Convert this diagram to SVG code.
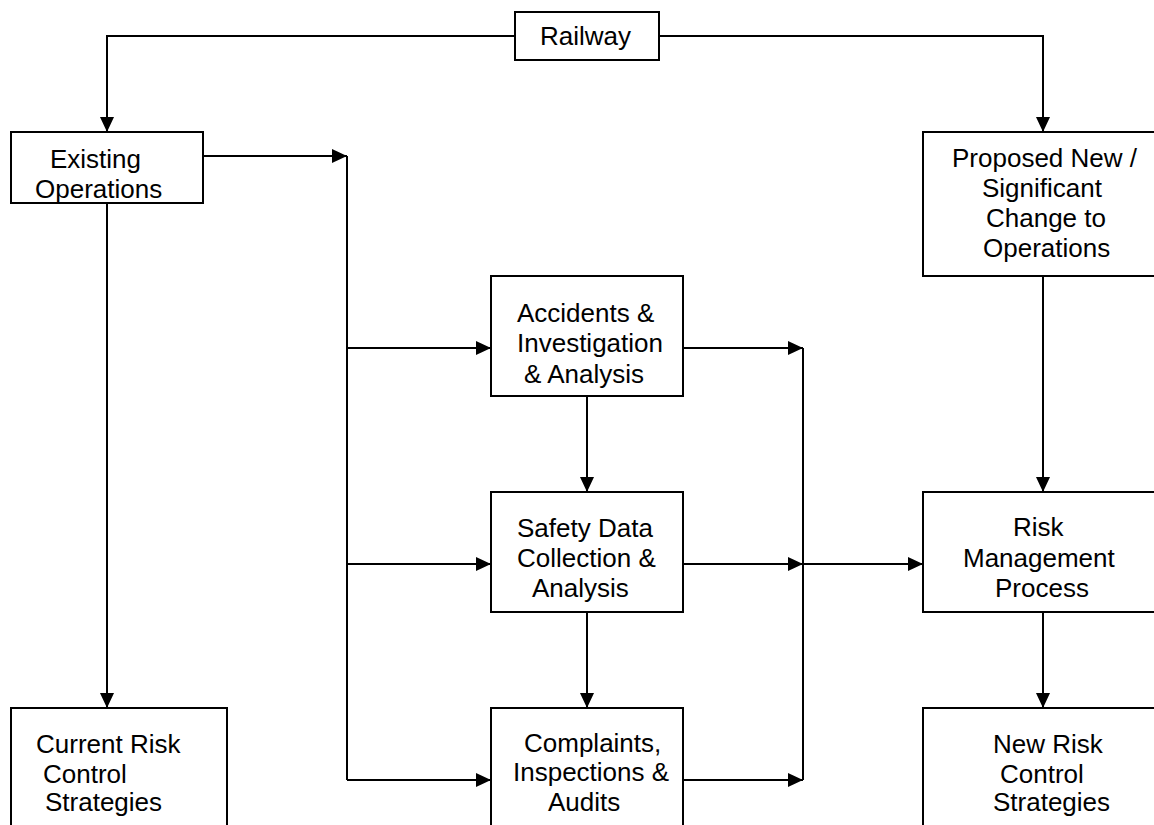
<svg xmlns="http://www.w3.org/2000/svg" width="1154" height="825" viewBox="0 0 1154 825">
<style>
.box{fill:#fff;stroke:#000;stroke-width:2}
.c{fill:none;stroke:#000;stroke-width:2}
text{font-family:"Liberation Sans",Arial,sans-serif;font-size:26px;fill:#000}
</style>
<defs>
<marker id="ah" markerUnits="userSpaceOnUse" markerWidth="15" markerHeight="15" refX="15" refY="7.5" orient="auto">
<path d="M0,0.5 L15,7.5 L0,14.5 z" fill="#000"/>
</marker>
</defs>
<rect width="1154" height="825" fill="#fff"/>
<g id="connectors">
<path class="c" d="M515,36 H107 V132" marker-end="url(#ah)"/>
<path class="c" d="M659,36 H1043 V132" marker-end="url(#ah)"/>
<path class="c" d="M203,156 H347" marker-end="url(#ah)"/>
<path class="c" d="M347,156 V780"/>
<path class="c" d="M347,348 H491" marker-end="url(#ah)"/>
<path class="c" d="M347,564 H491" marker-end="url(#ah)"/>
<path class="c" d="M347,780 H491" marker-end="url(#ah)"/>
<path class="c" d="M587,396 V492" marker-end="url(#ah)"/>
<path class="c" d="M587,612 V708" marker-end="url(#ah)"/>
<path class="c" d="M683,348 H803" marker-end="url(#ah)"/>
<path class="c" d="M683,564 H803" marker-end="url(#ah)"/>
<path class="c" d="M683,780 H803" marker-end="url(#ah)"/>
<path class="c" d="M803,348 V780"/>
<path class="c" d="M803,564 H923" marker-end="url(#ah)"/>
<path class="c" d="M1043,276 V492" marker-end="url(#ah)"/>
<path class="c" d="M1043,612 V708" marker-end="url(#ah)"/>
<path class="c" d="M107,203 V708" marker-end="url(#ah)"/>
</g>
<g id="railway">
<rect class="box" x="515" y="12" width="144" height="48"/>
<text x="540" y="45">Railway</text>
</g>
<g id="existing">
<rect class="box" x="11" y="132" width="192" height="71"/>
<text x="50" y="168">Existing</text>
<text x="35" y="198">Operations</text>
</g>
<g id="accidents">
<rect class="box" x="491" y="276" width="192" height="120"/>
<text x="517" y="322">Accidents &amp;</text>
<text x="517" y="352">Investigation</text>
<text x="524" y="383">&amp; Analysis</text>
</g>
<g id="safety">
<rect class="box" x="491" y="492" width="192" height="120"/>
<text x="517" y="537">Safety Data</text>
<text x="517" y="567">Collection &amp;</text>
<text x="532" y="597">Analysis</text>
</g>
<g id="complaints">
<rect class="box" x="491" y="708" width="192" height="140"/>
<text x="524" y="752">Complaints,</text>
<text x="513" y="781">Inspections &amp;</text>
<text x="548" y="811">Audits</text>
</g>
<g id="current">
<rect class="box" x="11" y="708" width="216" height="140"/>
<text x="36" y="753">Current Risk</text>
<text x="43" y="783">Control</text>
<text x="45" y="811">Strategies</text>
</g>
<g id="proposed">
<rect class="box" x="923" y="132" width="260" height="144"/>
<text x="952" y="167">Proposed New /</text>
<text x="982" y="197">Significant</text>
<text x="986" y="227">Change to</text>
<text x="983" y="257">Operations</text>
</g>
<g id="risk">
<rect class="box" x="923" y="492" width="260" height="120"/>
<text x="1013" y="536">Risk</text>
<text x="963" y="567">Management</text>
<text x="995" y="597">Process</text>
</g>
<g id="newrisk">
<rect class="box" x="923" y="708" width="260" height="140"/>
<text x="993" y="753">New Risk</text>
<text x="1000" y="783">Control</text>
<text x="993" y="811">Strategies</text>
</g>
</svg>
